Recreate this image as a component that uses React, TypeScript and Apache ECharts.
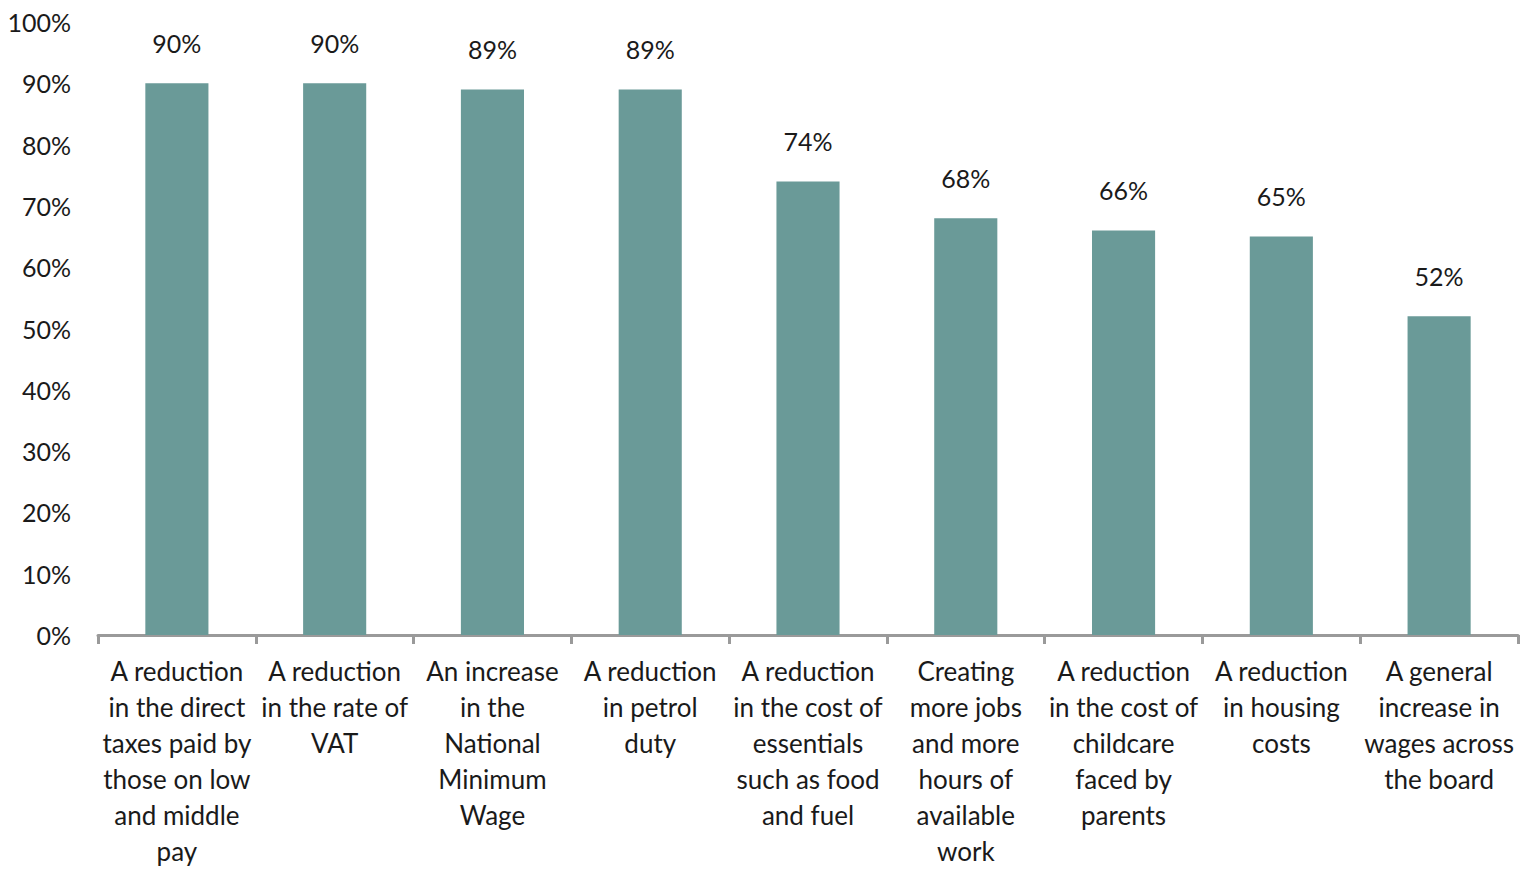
import React, { useEffect, useRef } from "react";
import * as echarts from "echarts";

const categories = [
  "A reduction\nin the direct\ntaxes paid by\nthose on low\nand middle\npay",
  "A reduction\nin the rate of\nVAT",
  "An increase\nin the\nNational\nMinimum\nWage",
  "A reduction\nin petrol\nduty",
  "A reduction\nin the cost of\nessentials\nsuch as food\nand fuel",
  "Creating\nmore jobs\nand more\nhours of\navailable\nwork",
  "A reduction\nin the cost of\nchildcare\nfaced by\nparents",
  "A reduction\nin housing\ncosts",
  "A general\nincrease in\nwages across\nthe board",
];

const values = [90, 90, 89, 89, 74, 68, 66, 65, 52];

const FONT = "Lato, 'Open Sans', sans-serif";

export default function App() {
  const ref = useRef<HTMLDivElement>(null);

  useEffect(() => {
    if (!ref.current) return;
    const chart = echarts.init(ref.current, undefined, { renderer: "svg" });
    chart.setOption({
      animation: false,
      textStyle: { fontFamily: FONT },
      grid: { left: 98, right: 10, top: 22, bottom: 237, containLabel: false },
      xAxis: {
        type: "category",
        data: categories,
        axisLine: { lineStyle: { color: "#9a9a9a", width: 3 } },
        axisTick: { show: true, length: 9, lineStyle: { color: "#9a9a9a", width: 3 } },
        axisLabel: {
          interval: 0,
          color: "#1a1a1a",
          fontSize: 26,
          lineHeight: 36,
          margin: 18,
          fontFamily: FONT,
        },
      },
      yAxis: {
        type: "value",
        min: 0,
        max: 100,
        interval: 10,
        axisLine: { show: false },
        axisTick: { show: false },
        splitLine: { show: false },
        axisLabel: {
          color: "#1a1a1a",
          fontSize: 25,
          margin: 27,
          fontFamily: FONT,
          formatter: (v: number) => `${v}%`,
        },
      },
      series: [
        {
          type: "bar",
          data: values,
          barCategoryGap: "60%",
          itemStyle: { color: "#6a9a98" },
          label: {
            show: true,
            position: "top",
            distance: 28,
            color: "#1a1a1a",
            fontSize: 25,
            fontFamily: FONT,
            formatter: (p: any) => `${p.value}%`,
          },
        },
      ],
    });
    return () => chart.dispose();
  }, []);

  return (
    <div
      ref={ref}
      style={{ position: "fixed", left: 0, top: 0, width: 1528, height: 872, background: "#fff" }}
    />
  );
}
